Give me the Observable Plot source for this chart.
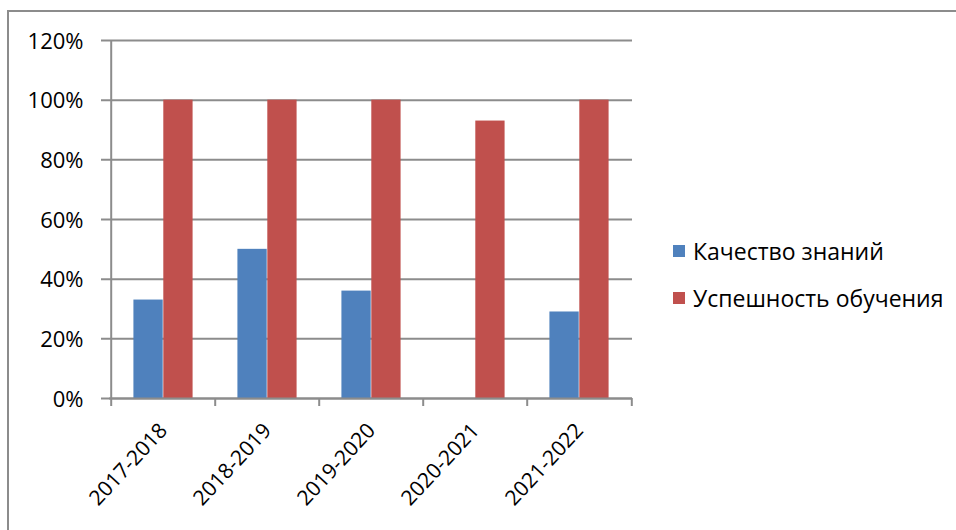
<!DOCTYPE html>
<html>
<head>
<meta charset="utf-8">
<script src="https://cdn.jsdelivr.net/npm/d3@7"></script>
<script src="https://cdn.jsdelivr.net/npm/@observablehq/plot@0.6"></script>
<style>
html,body{margin:0;padding:0;background:#fff;overflow:hidden;}
#wrap{position:relative;width:956px;height:530px;overflow:hidden;font-family:"Open Sans",sans-serif;background:#fff;}
#chart{position:absolute;left:0;top:0;}
#border{position:absolute;left:7px;top:10px;width:1000px;height:600px;border:2px solid #8c8c8c;box-sizing:border-box;pointer-events:none;}
.item{position:absolute;left:673px;display:flex;align-items:center;white-space:nowrap;font-size:23px;line-height:26px;height:26px;color:#000;}
.sw{width:12px;height:12px;margin-right:8px;flex:none;}
</style>
</head>
<body>
<div id="wrap">
  <div id="chart"></div>
  <div id="legend"></div>
  <div id="border"></div>
</div>
<script>
// ---- data ----
const categories = ["2017-2018", "2018-2019", "2019-2020", "2020-2021", "2021-2022"];
const seriesNames = ["Качество знаний", "Успешность обучения"];
const quality = [33, 50, 36, 0, 29];
const success = [100, 100, 100, 93, 100];
const yTicks = [0, 20, 40, 60, 80, 100, 120];
const colors = ["#4F81BD", "#C0504D"];

// ---- layout ----
const W = 956, H = 530, mL = 109, mR = 324, mT = 40, mB = 132;
const step = (W - mL - mR) / categories.length;
const bw = step / 3.5; // two bars + gap width 150%
const grid = "#8c8c8c";
const rows = categories.map((c, i) => ({category: c, quality: quality[i], success: success[i]}));
const last = categories[categories.length - 1];

const plot = Plot.plot({
  width: W, height: H,
  marginLeft: mL, marginRight: mR, marginTop: mT, marginBottom: mB,
  style: {fontFamily: "'Open Sans', sans-serif", fontSize: "21px", color: "#000", background: "transparent", overflow: "visible"},
  x: {type: "band", domain: categories, padding: 0, axis: null},
  y: {domain: [0, 120], axis: null},
  marks: [
    Plot.ruleY(yTicks, {y: d => d, stroke: grid, strokeWidth: 2, insetLeft: -8}),
    Plot.ruleX([categories[0]], {x: d => d, dx: -step / 2, stroke: grid, strokeWidth: 2, insetBottom: -8}),
    Plot.ruleX(categories.slice(1), {x: d => d, dx: -step / 2, stroke: grid, strokeWidth: 2, insetTop: H - mT - mB, insetBottom: -8}),
    Plot.ruleX([last], {x: d => d, dx: step / 2, stroke: grid, strokeWidth: 2, insetTop: H - mT - mB, insetBottom: -8}),
    Plot.barY(rows, {x: "category", y: "quality", fill: colors[0], insetLeft: 0.75 * bw, insetRight: 1.75 * bw}),
    Plot.barY(rows, {x: "category", y: "success", fill: colors[1], insetLeft: 1.75 * bw, insetRight: 0.75 * bw}),
    Plot.ruleY([0], {y: d => d, stroke: grid, strokeWidth: 2}),
    Plot.text(yTicks, {y: d => d, frameAnchor: "left", text: d => d + "%", textAnchor: "end", dx: -26, dy: 1, fill: "#000", fontSize: 22}),
    Plot.text(categories, {x: d => d, frameAnchor: "bottom", text: d => d, rotate: -47, textAnchor: "end", dx: 5, dy: 33, fill: "#000", fontSize: 21})
  ]
});
document.getElementById("chart").appendChild(plot);

// ---- legend ----
const legendTops = [238, 285];
const legend = document.getElementById("legend");
seriesNames.forEach((name, i) => {
  const it = document.createElement("div");
  it.className = "item";
  it.style.top = legendTops[i] + "px";
  const sw = document.createElement("span");
  sw.className = "sw";
  sw.style.background = colors[i];
  const t = document.createElement("span");
  t.textContent = name;
  it.appendChild(sw);
  it.appendChild(t);
  legend.appendChild(it);
});
</script>
</body>
</html>
